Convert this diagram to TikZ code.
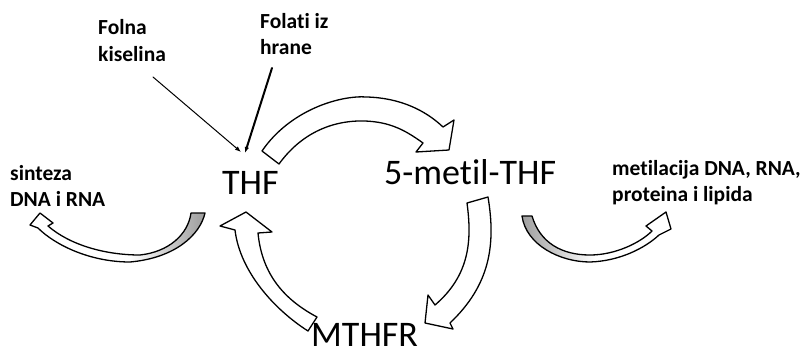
\documentclass[tikz,border=0pt]{standalone}
\usepackage{fontspec}
\setmainfont{Carlito}[Ligatures=NoCommon]
\usetikzlibrary{arrows.meta}
\begin{document}
\begin{tikzpicture}[x=1pt,y=-1pt,
  small/.style={font=\fontsize{21.5}{26}\selectfont\bfseries, inner sep=0pt, anchor=base west},
  big/.style={font=\fontsize{36}{40}\selectfont, inner sep=0pt, anchor=base west},
  blockarrow/.style={draw=black, fill=white, line width=1.3pt, line join=round},
  outline/.style={draw=black, line width=1.3pt, line join=round},
  pointer/.style={-{Latex[length=6pt,width=4.5pt]}, line cap=round}]
\useasboundingbox (0,0) rectangle (805,353);

% labels
\node[small] (folna) at (98,35) {\begin{tabular}[t]{@{}l@{}}Folna\\kiselina\end{tabular}};
\node[small] (folati) at (260,28.5) {\begin{tabular}[t]{@{}l@{}}Folati iz\\hrane\end{tabular}};
\node[small] (sinteza) at (10,180) {\begin{tabular}[t]{@{}l@{}}sinteza\\DNA i RNA\end{tabular}};
\node[small] (metil) at (612,175) {\begin{tabular}[t]{@{}l@{}}metilacija DNA, RNA,\\proteina i lipida\end{tabular}};
\node[big] (thf) at (222,194) {THF};
\node[big] (mthf) at (384,184) {5-metil-THF};
\node[big] (mthfr) at (311,346) {MTHFR};

% pointer lines
\coordinate (fkStart) at (153,77);
\coordinate (fkEnd) at (241,152);
\coordinate (fhStart) at (272,68);
\coordinate (fhEnd) at (245,153);
\draw[pointer, line width=1pt] (fkStart) -- (fkEnd);
\draw[pointer, line width=2pt] (fhStart) -- (fhEnd);

% THF -> 5-metil-THF
\path[blockarrow] (262,151) .. controls (290,110) and (340,95) .. (367,97)
  .. controls (400,98) and (425,110) .. (443,127) -- (454,120) -- (449,150) -- (416,152) -- (423,143)
  .. controls (405,130) and (390,122) .. (365,121) .. controls (330,120) and (300,135) .. (279,164) -- cycle;

% 5-metil-THF -> MTHFR
\path[blockarrow] (467,203) .. controls (472,240) and (470,275) .. (435,305) -- (428,295) -- (425,323)
  -- (453,329) -- (450,323) .. controls (490,285) and (496,245) .. (488,197) -- cycle;

% MTHFR -> THF
\path[blockarrow] (308,331) .. controls (275,310) and (240,272) .. (235,230) -- (220,226) -- (246,212)
  -- (272,232) -- (258,233) .. controls (262,275) and (285,300) .. (317,317) -- cycle;

% THF -> sinteza (left small arrow)
\path[fill=white] (205,213) .. controls (200,235) and (175,258) .. (130,262) .. controls (90,262) and (55,245) .. (38,228)
  -- (30,225) -- (40,213) -- (53,223) -- (48,226) .. controls (70,245) and (105,255) .. (140,255)
  .. controls (168,252) and (188,235) .. (191,213) -- cycle;
\begin{scope}
\clip (205,213) .. controls (200,235) and (175,258) .. (130,262) .. controls (90,262) and (55,245) .. (38,228)
  -- (30,225) -- (40,213) -- (53,223) -- (48,226) .. controls (70,245) and (105,255) .. (140,255)
  .. controls (168,252) and (188,235) .. (191,213) -- cycle;
\shade[left color=white, right color=gray!80] (130,205) rectangle (207,265);
\end{scope}
\path[outline] (205,213) .. controls (200,235) and (175,258) .. (130,262) .. controls (90,262) and (55,245) .. (38,228)
  -- (30,225) -- (40,213) -- (53,223) -- (48,226) .. controls (70,245) and (105,255) .. (140,255)
  .. controls (168,252) and (188,235) .. (191,213) -- cycle;

% 5-metil-THF -> metilacija (right small arrow)
\path[fill=white] (522,216) .. controls (526,245) and (560,262) .. (590,262) .. controls (620,261) and (645,248) .. (659,235)
  -- (671,229) -- (666,212) -- (646,226) -- (652,231) .. controls (640,243) and (615,255) .. (590,255)
  .. controls (562,255) and (540,243) .. (532,216) -- cycle;
\begin{scope}
\clip (522,216) .. controls (526,245) and (560,262) .. (590,262) .. controls (620,261) and (645,248) .. (659,235)
  -- (671,229) -- (666,212) -- (646,226) -- (652,231) .. controls (640,243) and (615,255) .. (590,255)
  .. controls (562,255) and (540,243) .. (532,216) -- cycle;
\shade[left color=gray!80, right color=white] (518,205) rectangle (595,265);
\end{scope}
\path[outline] (522,216) .. controls (526,245) and (560,262) .. (590,262) .. controls (620,261) and (645,248) .. (659,235)
  -- (671,229) -- (666,212) -- (646,226) -- (652,231) .. controls (640,243) and (615,255) .. (590,255)
  .. controls (562,255) and (540,243) .. (532,216) -- cycle;
\end{tikzpicture}
\end{document}
